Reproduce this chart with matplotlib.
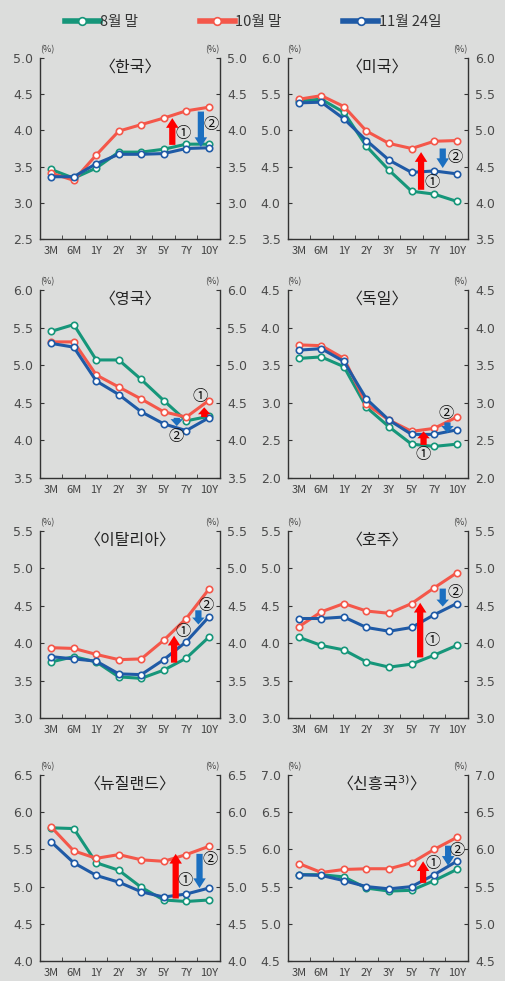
import matplotlib.pyplot as plt
from matplotlib.patches import FancyArrowPatch
from matplotlib.lines import Line2D

plt.rcParams['font.family'] = ['Noto Sans CJK KR', 'DejaVu Sans']

tenors = ['3M', '6M', '1Y', '2Y', '3Y', '5Y', '7Y', '10Y']
series_names = ['8월 말', '10월 말', '11월 24일']

titles = ['〈한국〉', '〈미국〉', '〈영국〉', '〈독일〉',
          '〈이탈리아〉', '〈호주〉', '〈뉴질랜드〉', '〈신흥국$^{3)}$〉']
ylims = [(2.5, 5.0), (3.5, 6.0), (3.5, 6.0), (2.0, 4.5),
         (3.0, 5.5), (3.0, 5.5), (4.0, 6.5), (4.5, 7.0)]

# 8월 말
aug = [
    [3.46, 3.34, 3.48, 3.70, 3.70, 3.74, 3.81, 3.81],
    [5.41, 5.43, 5.25, 4.78, 4.45, 4.16, 4.12, 4.02],
    [5.45, 5.54, 5.07, 5.07, 4.81, 4.53, 4.26, 4.32],
    [3.59, 3.61, 3.48, 2.94, 2.68, 2.45, 2.42, 2.45],
    [3.75, 3.82, 3.75, 3.55, 3.53, 3.64, 3.80, 4.08],
    [4.08, 3.97, 3.91, 3.75, 3.68, 3.72, 3.84, 3.97],
    [5.79, 5.78, 5.32, 5.22, 4.99, 4.82, 4.80, 4.82],
    [5.66, 5.66, 5.63, 5.48, 5.44, 5.45, 5.58, 5.73],
]
# 10월 말
octo = [
    [3.41, 3.31, 3.66, 3.99, 4.08, 4.17, 4.27, 4.32],
    [5.43, 5.48, 5.33, 4.99, 4.82, 4.75, 4.85, 4.86],
    [5.31, 5.31, 4.87, 4.71, 4.55, 4.38, 4.31, 4.53],
    [3.77, 3.76, 3.59, 2.98, 2.77, 2.62, 2.66, 2.81],
    [3.94, 3.93, 3.85, 3.78, 3.79, 4.04, 4.33, 4.72],
    [4.22, 4.42, 4.53, 4.43, 4.40, 4.53, 4.74, 4.94],
    [5.80, 5.48, 5.38, 5.43, 5.36, 5.34, 5.43, 5.54],
    [5.81, 5.69, 5.73, 5.74, 5.74, 5.82, 6.00, 6.16],
]
# 11월 24일
nov = [
    [3.36, 3.36, 3.54, 3.67, 3.67, 3.68, 3.75, 3.76],
    [5.38, 5.39, 5.16, 4.86, 4.59, 4.42, 4.44, 4.40],
    [5.29, 5.24, 4.79, 4.61, 4.38, 4.22, 4.13, 4.30],
    [3.70, 3.72, 3.55, 3.05, 2.77, 2.58, 2.58, 2.64],
    [3.82, 3.79, 3.76, 3.59, 3.58, 3.78, 4.02, 4.35],
    [4.33, 4.33, 4.35, 4.21, 4.16, 4.21, 4.38, 4.53],
    [5.60, 5.32, 5.15, 5.06, 4.93, 4.86, 4.90, 4.98],
    [5.66, 5.65, 5.58, 5.50, 5.47, 5.50, 5.66, 5.84],
]

# annotation arrows: (x, y_from, y_to) and label position (x, y)
red_arrows = [(5.38, 3.80, 4.17), (5.42, 4.18, 4.70), (6.80, 4.31, 4.44), (5.53, 2.44, 2.62),
              (5.46, 3.74, 4.10), (5.38, 3.81, 4.54), (5.53, 4.84, 5.44), (5.51, 5.55, 5.84)]
red_labels = [(5.85, 3.96), (5.93, 4.28), (6.63, 4.59), (5.51, 2.31),
              (5.85, 4.15), (5.90, 4.04), (5.94, 5.08), (5.97, 5.81)]
blue_arrows = [(6.65, 4.26, 3.77), (6.38, 4.75, 4.48), (5.58, 4.30, 4.19), (6.59, 2.74, 2.60),
               (6.54, 4.44, 4.25), (6.38, 4.73, 4.49), (6.59, 5.44, 4.98), (6.62, 6.05, 5.78)]
blue_labels = [(7.10, 4.08), (6.92, 4.63), (5.55, 4.05), (6.54, 2.86),
               (6.88, 4.50), (6.93, 4.68), (7.04, 5.37), (7.00, 5.99)]

colors = ['#16967a', '#f4574a', '#1f5aa6']
bg = '#dcdddc'
W, H = 506, 981
cols = [(40, 220), (287.5, 468)]
rows = [(58, 239), (290, 478), (531, 718), (775, 961)]

fig = plt.figure(figsize=(W / 100, H / 100), dpi=100, facecolor=bg)

for i in range(8):
    x0, x1 = cols[i % 2]
    y0, y1 = rows[i // 2]
    ax = fig.add_axes([x0 / W, 1 - y1 / H, (x1 - x0) / W, (y1 - y0) / H])
    ax.set_facecolor(bg)
    xs = range(len(tenors))
    for vals, c in zip([aug[i], octo[i], nov[i]], colors):
        ax.plot(xs, vals, color=c, lw=2.2, marker='o', ms=4.6, mfc='white',
                mec=c, mew=1.2, zorder=3)
    lo, hi = ylims[i]
    ax.set_ylim(lo, hi)
    ax.set_xlim(-0.5, 7.5)
    yt = [lo + 0.5 * k for k in range(6)]
    ax.set_yticks(yt)
    ax.set_yticklabels(['%.1f' % v for v in yt])
    ax.set_xticks(list(xs))
    ax.set_xticklabels(tenors)
    ax.set_xticks([k + 0.5 for k in range(7)], minor=True)
    ax.tick_params(axis='x', which='major', length=0, pad=5, labelsize=8,
                   labelcolor='#404040')
    ax.tick_params(axis='x', which='minor', direction='in', length=3, color='#333333')
    ax.tick_params(axis='y', direction='in', length=3, left=True, right=True,
                   labelleft=True, labelright=True, pad=5, labelsize=9,
                   labelcolor='#4a4a4a', color='#333333')
    for lab in ax.get_yticklabels():
        lab.set_family('DejaVu Sans')
    ax.spines['top'].set_visible(False)
    for s in ['left', 'right', 'bottom']:
        ax.spines[s].set_color('#333333')
        ax.spines[s].set_linewidth(1.0)
    ax.text(0, 1.02, '(%)', transform=ax.transAxes, ha='left', va='bottom',
            fontsize=6.5, color='#404040')
    ax.text(1, 1.02, '(%)', transform=ax.transAxes, ha='right', va='bottom',
            fontsize=6.5, color='#404040')
    ax.text(0.5, 0.95, titles[i], transform=ax.transAxes, ha='center', va='center',
            fontsize=11.5, color='#222222')

    for (ax_x, ya, yb), col in [(red_arrows[i], '#ff0000'), (blue_arrows[i], '#1b6fc0')]:
        size = abs(yb - ya) / (hi - lo)
        hl = 7 if size > 0.1 else 5
        arr = FancyArrowPatch((ax_x, ya), (ax_x, yb), mutation_scale=1,
                              arrowstyle='simple,head_width=9,head_length=%.1f,tail_width=4.5' % hl,
                              color=col, lw=0, shrinkA=0, shrinkB=0, zorder=4)
        ax.add_patch(arr)
    ax.text(red_labels[i][0], red_labels[i][1], '①', ha='center', va='center',
            fontsize=11, color='#111111', zorder=5)
    ax.text(blue_labels[i][0], blue_labels[i][1], '②', ha='center', va='center',
            fontsize=11, color='#111111', zorder=5)

handles = [Line2D([], [], color=c, lw=4, marker='o', ms=5.5, mfc='white', mec=c, mew=1.2)
           for c in colors]
fig.legend(handles, series_names, loc='center', bbox_to_anchor=(0.5, 1 - 22 / H),
           ncol=3, frameon=False, fontsize=10.5, handlelength=2.4, handletextpad=0.05,
           columnspacing=4.2, labelcolor='#333333')

fig.savefig('out.png', dpi=100, facecolor=bg)
